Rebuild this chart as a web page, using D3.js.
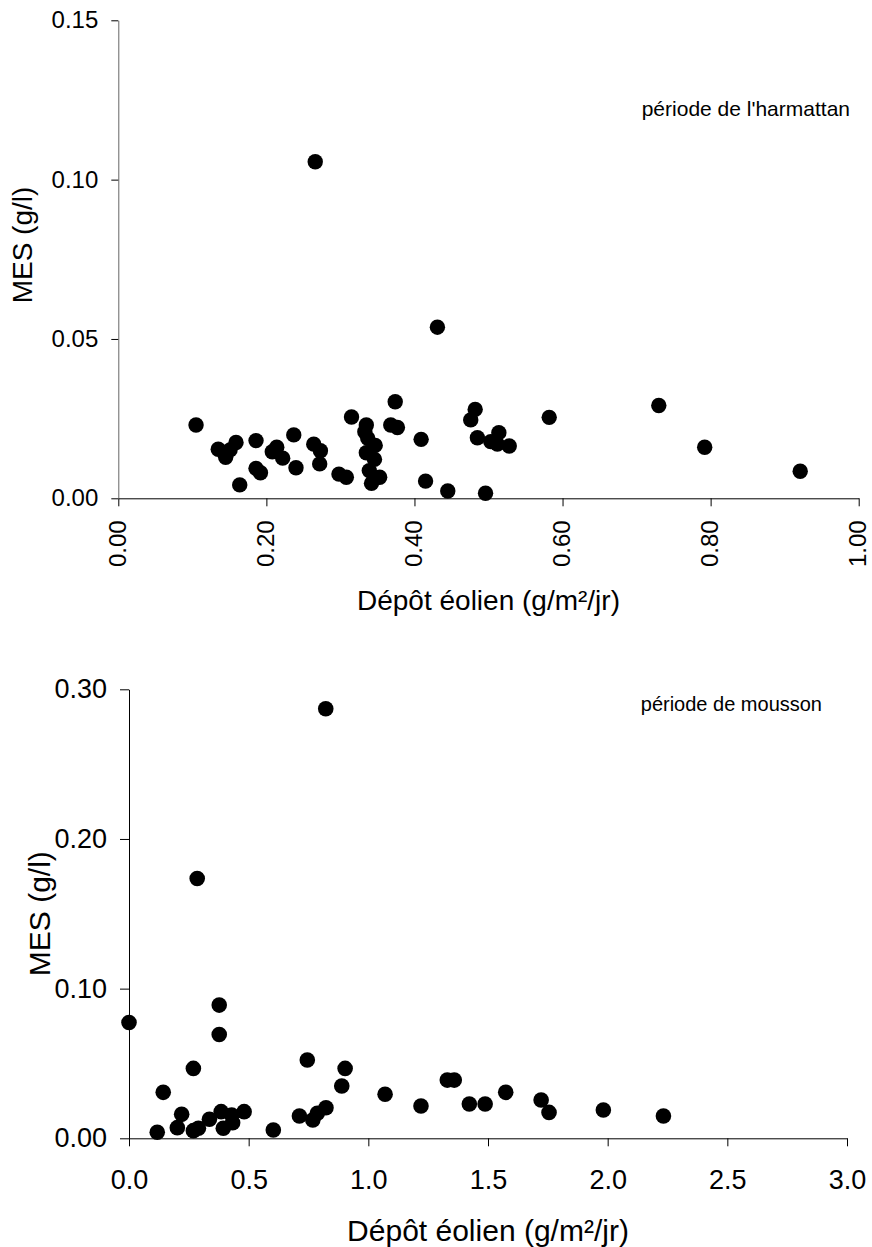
<!DOCTYPE html>
<html>
<head>
<meta charset="utf-8">
<script src="https://cdn.jsdelivr.net/npm/d3@7"></script>
<style>
  html, body { margin: 0; padding: 0; background: #fff; }
  svg { display: block; }
  text { font-family: "Liberation Sans", Arial, sans-serif; fill: #000; }
</style>
</head>
<body>
<svg id="chart" width="872" height="1247"></svg>
<script>
// ---- Data: harmattan period ----
const harmX = [0.105,0.135,0.145,0.151,0.159,0.164,0.186,0.186,0.192,0.208,0.214,0.222,0.237,0.240,0.264,0.266,0.273,0.272,0.298,0.308,0.315,0.335,0.333,0.337,0.347,0.335,0.346,0.339,0.353,0.342,0.368,0.374,0.377,0.409,0.415,0.431,0.445,0.476,0.482,0.485,0.496,0.503,0.512,0.514,0.528,0.582,0.730,0.792,0.921];
const harmY = [0.0230,0.0154,0.0129,0.0152,0.0175,0.0042,0.0181,0.0094,0.0080,0.0146,0.0160,0.0126,0.0199,0.0096,0.0170,0.1056,0.0149,0.0108,0.0076,0.0066,0.0255,0.0230,0.0209,0.0188,0.0166,0.0143,0.0122,0.0087,0.0066,0.0047,0.0230,0.0303,0.0222,0.0185,0.0054,0.0537,0.0023,0.0246,0.0279,0.0190,0.0016,0.0178,0.0170,0.0206,0.0164,0.0254,0.0291,0.0160,0.0085];

// ---- Data: monsoon period ----
const monsX = [0.000,0.377,0.377,0.269,0.143,0.220,0.118,0.202,0.269,0.290,0.336,0.385,0.394,0.429,0.433,0.481,0.603,0.712,0.745,0.768,0.787,0.823,0.903,0.889,1.070,1.220,1.330,1.359,1.422,1.488,1.574,1.722,1.755,1.982,2.233,0.822,0.285];
const monsY = [0.0774,0.0890,0.0694,0.0467,0.0307,0.0160,0.0040,0.0071,0.0051,0.0067,0.0127,0.0178,0.0067,0.0155,0.0104,0.0178,0.0055,0.0149,0.0523,0.0122,0.0167,0.0204,0.0467,0.0349,0.0294,0.0216,0.0389,0.0389,0.0229,0.0229,0.0307,0.0256,0.0173,0.0189,0.0149,0.2870,0.1736];

// ---- Axis ticks / labels ----
const harmXTicks = [0, 0.2, 0.4, 0.6, 0.8, 1.0];
const harmYTicks = [0, 0.05, 0.10, 0.15];
const monsXTicks = [0, 0.5, 1.0, 1.5, 2.0, 2.5, 3.0];
const monsYTicks = [0, 0.10, 0.20, 0.30];
const xTitle = "Dépôt éolien (g/m²/jr)";
const yTitle = "MES (g/l)";
const harmNote = "période de l'harmattan";
const monsNote = "période de mousson";

const svg = d3.select("#chart");
svg.append("rect").attr("width", 872).attr("height", 1247).attr("fill", "#fff");

function drawPanel(cfg) {
  const g = svg.append("g");
  const x = d3.scaleLinear().domain(cfg.xDomain).range(cfg.xRange);
  const y = d3.scaleLinear().domain(cfg.yDomain).range(cfg.yRange);

  // x axis
  const xAxis = g.append("g")
    .attr("transform", `translate(0,${cfg.yRange[0]})`)
    .call(d3.axisBottom(x).tickValues(cfg.xTicks).tickFormat(d3.format(cfg.xFmt))
      .tickSizeInner(cfg.xTickLen).tickSizeOuter(0).tickPadding(cfg.xPad));
  xAxis.select(".domain").attr("stroke", "#000");
  xAxis.selectAll(".tick line").attr("stroke", "#000");
  xAxis.selectAll("text").attr("font-size", cfg.tickFont).attr("fill", "#000")
    .attr("font-family", '"Liberation Sans", Arial, sans-serif');
  if (cfg.rotateX) {
    xAxis.selectAll("text")
      .attr("transform", "rotate(-90)")
      .attr("text-anchor", "end")
      .attr("x", -(cfg.xTickLen + cfg.xPad))
      .attr("y", 0)
      .attr("dy", "0.3em");
  }

  // y axis
  const yAxis = g.append("g")
    .attr("transform", `translate(${cfg.xRange[0]},0)`)
    .call(d3.axisLeft(y).tickValues(cfg.yTicks).tickFormat(d3.format(".2f"))
      .tickSizeInner(cfg.yTickLen).tickSizeOuter(0).tickPadding(cfg.yPad));
  yAxis.select(".domain").attr("stroke", cfg.yAxisColor);
  yAxis.selectAll(".tick line").attr("stroke", "#000");
  yAxis.selectAll("text").attr("font-size", cfg.tickFont).attr("fill", "#000")
    .attr("font-family", '"Liberation Sans", Arial, sans-serif');

  // points
  g.append("g").selectAll("circle")
    .data(cfg.xs.map((v, i) => [v, cfg.ys[i]]))
    .join("circle")
    .attr("cx", d => x(d[0]))
    .attr("cy", d => y(d[1]))
    .attr("r", cfg.r)
    .attr("fill", "#000");

  // titles
  g.append("text")
    .attr("x", (cfg.xRange[0] + cfg.xRange[1]) / 2)
    .attr("y", cfg.xTitleY)
    .attr("text-anchor", "middle")
    .attr("dominant-baseline", "central")
    .attr("font-size", cfg.titleFont)
    .text(xTitle);

  g.append("text")
    .attr("transform", `translate(${cfg.yTitleX},${cfg.yTitleY}) rotate(-90)`)
    .attr("text-anchor", "middle")
    .attr("dominant-baseline", "central")
    .attr("font-size", cfg.titleFont)
    .text(yTitle);

  g.append("text")
    .attr("x", cfg.noteX)
    .attr("y", cfg.noteY)
    .attr("text-anchor", "end")
    .attr("dominant-baseline", "central")
    .attr("font-size", cfg.noteFont)
    .text(cfg.note);
}

drawPanel({
  xs: harmX, ys: harmY,
  xDomain: [0, 1], xRange: [118.3, 858.7],
  yDomain: [0, 0.15], yRange: [498.3, 20.3],
  xTicks: harmXTicks, yTicks: harmYTicks, xFmt: ".2f",
  xTickLen: 8, yTickLen: 7, xPad: 14, yPad: 13,
  rotateX: true, tickFont: 24, titleFont: 28,
  xTitleY: 600, yTitleX: 22, yTitleY: 245,
  yAxisColor: "#666",
  r: 7.7,
  note: harmNote, noteX: 850, noteY: 108, noteFont: 21
});

drawPanel({
  xs: monsX, ys: monsY,
  xDomain: [0, 3], xRange: [129, 847],
  yDomain: [0, 0.30], yRange: [1138.3, 689.3],
  xTicks: monsXTicks, yTicks: monsYTicks, xFmt: ".1f",
  xTickLen: 8, yTickLen: 9, xPad: 24, yPad: 13,
  rotateX: false, tickFont: 27, titleFont: 30,
  xTitleY: 1230, yTitleX: 39, yTitleY: 913.7,
  yAxisColor: "#000",
  r: 7.8,
  note: monsNote, noteX: 822, noteY: 704, noteFont: 20
});
</script>
</body>
</html>
